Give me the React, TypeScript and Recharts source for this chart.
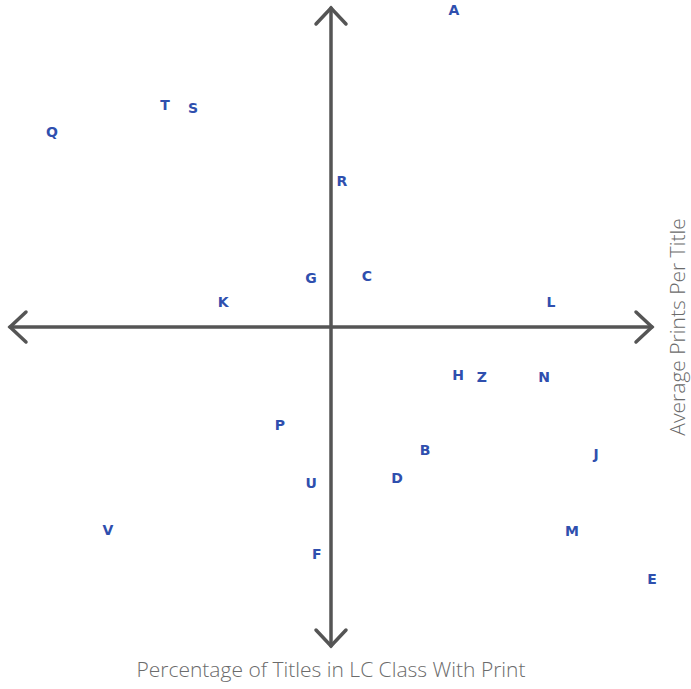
import { ScatterChart, Scatter, XAxis, YAxis, ReferenceLine } from 'recharts';

// Quadrant positions of each LC class (x: % titles with print, y: avg prints per title),
// both centred on zero so the axes cross in the middle
const LETTERS = ['A', 'T', 'S', 'Q', 'R', 'G', 'C', 'K', 'L', 'H', 'Z', 'N', 'P', 'B', 'J', 'D', 'U', 'V', 'M', 'F', 'E'];
const X_VALUES = [38.3, -51.7, -43.0, -86.9, 3.4, -6.2, 11.2, -33.6, 68.5, 39.6, 47.0, 66.4, -15.9, 29.3, 82.6, 20.6, -6.2, -69.5, 75.1, -4.4, 100];
const Y_VALUES = [99.4, 69.6, 68.7, 61.1, 45.8, 15.4, 16.0, 7.8, 7.8, -15.0, -15.7, -15.7, -30.7, -38.6, -39.8, -47.3, -48.9, -63.6, -63.9, -71.2, -79.0];

const X_TITLE = 'Percentage of Titles in LC Class With Print';
const Y_TITLE = 'Average Prints Per Title';

const AXIS_COLOR = '#555555';
const LETTER_COLOR = '#2f4fae';
const TITLE_COLOR = '#6b6b6b';

const points = LETTERS.map((name, i) => ({ name, x: X_VALUES[i], y: Y_VALUES[i] }));

// axis line with an open chevron at both ends
const ArrowLine = (props: any) => {
  const { x1, y1, x2, y2 } = props;
  const a = 16;
  const b = 15;
  if (Math.abs(x1 - x2) < 1) {
    const top = Math.min(y1, y2);
    const bottom = Math.max(y1, y2);
    return (
      <g stroke={AXIS_COLOR} strokeWidth={3.5} fill="none" strokeLinecap="round">
        <line x1={x1} y1={top} x2={x1} y2={bottom} />
        <polyline points={`${x1 - b},${top + a} ${x1},${top} ${x1 + b},${top + a}`} />
        <polyline points={`${x1 - b},${bottom - a} ${x1},${bottom} ${x1 + b},${bottom - a}`} />
      </g>
    );
  }
  const left = Math.min(x1, x2);
  const right = Math.max(x1, x2);
  return (
    <g stroke={AXIS_COLOR} strokeWidth={3.5} fill="none" strokeLinecap="round">
      <line x1={left} y1={y1} x2={right} y2={y1} />
      <polyline points={`${left + a},${y1 - b} ${left},${y1} ${left + a},${y1 + b}`} />
      <polyline points={`${right - a},${y1 - b} ${right},${y1} ${right - a},${y1 + b}`} />
    </g>
  );
};

const LetterMark = (props: any) => {
  const { cx, cy, payload } = props;
  return (
    <text
      x={cx}
      y={cy}
      textAnchor="middle"
      dominantBaseline="central"
      fill={LETTER_COLOR}
      fontFamily="DejaVu Sans, sans-serif"
      fontWeight="bold"
      fontSize={14}
    >
      {payload.name}
    </text>
  );
};

export default function App() {
  return (
    <div style={{ position: 'absolute', left: 0, top: 0, background: '#fff' }}>
      <ScatterChart width={691} height={689} margin={{ top: 8, right: 0, bottom: 0, left: 10 }}>
        <XAxis
          type="number"
          dataKey="x"
          domain={[-100, 100]}
          height={43}
          tick={false}
          tickLine={false}
          axisLine={false}
          label={{
            value: X_TITLE,
            position: 'insideBottom',
            offset: 12,
            fill: TITLE_COLOR,
            fontSize: 21,
            fontFamily: 'Open Sans, sans-serif',
            fontWeight: 300,
          }}
        />
        <YAxis
          type="number"
          dataKey="y"
          domain={[-100, 100]}
          orientation="right"
          width={39}
          tick={false}
          tickLine={false}
          axisLine={false}
          label={{
            value: Y_TITLE,
            angle: -90,
            position: 'center',
            dx: 6,
            fill: TITLE_COLOR,
            fontSize: 21,
            fontFamily: 'Open Sans, sans-serif',
            fontWeight: 300,
          }}
        />
        <ReferenceLine x={0} shape={ArrowLine} />
        <ReferenceLine y={0} shape={ArrowLine} />
        <Scatter data={points} shape={LetterMark} isAnimationActive={false} />
      </ScatterChart>
    </div>
  );
}
